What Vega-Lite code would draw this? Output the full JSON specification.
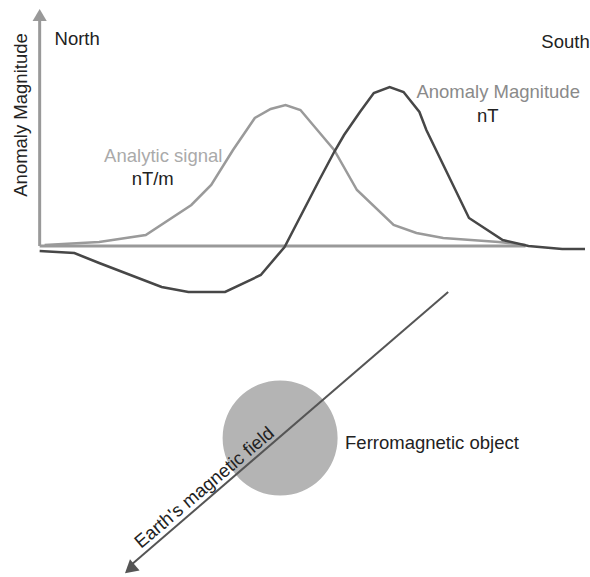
{
  "$schema": "https://vega.github.io/schema/vega-lite/v6.json",
  "width": 590,
  "height": 577,
  "padding": 0,
  "autosize": {"type": "fit", "contains": "padding"},
  "background": "white",
  "config": {"view": {"stroke": null}, "font": "Liberation Sans"},
  "datasets": {
    "axes": [
      {"part": "vertical", "order": 1, "x": 40, "y": 246},
      {"part": "vertical", "order": 2, "x": 40, "y": 20},
      {"part": "horizontal", "order": 1, "x": 40, "y": 246},
      {"part": "horizontal", "order": 2, "x": 530, "y": 246}
    ],
    "analytic": [
      {"x": 45, "y": 245}, {"x": 100, "y": 242}, {"x": 147, "y": 235}, {"x": 193, "y": 205},
      {"x": 213, "y": 185}, {"x": 235, "y": 150}, {"x": 257, "y": 118}, {"x": 273, "y": 109},
      {"x": 288, "y": 105}, {"x": 303, "y": 110}, {"x": 320, "y": 130}, {"x": 337, "y": 150},
      {"x": 360, "y": 190}, {"x": 397, "y": 225}, {"x": 420, "y": 233}, {"x": 447, "y": 238},
      {"x": 503, "y": 242}, {"x": 530, "y": 245}
    ],
    "anomaly": [
      {"x": 40, "y": 251}, {"x": 75, "y": 253}, {"x": 100, "y": 263}, {"x": 163, "y": 287},
      {"x": 190, "y": 292}, {"x": 227, "y": 292}, {"x": 263, "y": 275}, {"x": 287, "y": 247},
      {"x": 322, "y": 180}, {"x": 337, "y": 152}, {"x": 347, "y": 135}, {"x": 363, "y": 112},
      {"x": 377, "y": 93}, {"x": 393, "y": 87}, {"x": 407, "y": 92}, {"x": 423, "y": 112},
      {"x": 430, "y": 130}, {"x": 473, "y": 218}, {"x": 507, "y": 240}, {"x": 533, "y": 246},
      {"x": 567, "y": 249}, {"x": 590, "y": 249}
    ],
    "field": [
      {"x": 452, "y": 292}, {"x": 131, "y": 566}
    ]
  },
  "encoding": {
    "x": {"field": "x", "type": "quantitative", "scale": {"domain": [0, 590]}, "axis": null},
    "y": {"field": "y", "type": "quantitative", "scale": {"domain": [0, 577], "reverse": true}, "axis": null}
  },
  "layer": [
    {
      "data": {"values": [{"x": 282.5, "y": 438}]},
      "mark": {"type": "point", "shape": "circle", "filled": true, "color": "#b4b4b4", "opacity": 1, "size": 13225}
    },
    {
      "data": {"name": "axes"},
      "mark": {"type": "line", "color": "#999999", "strokeWidth": 3, "strokeCap": "butt"},
      "encoding": {"detail": {"field": "part"}, "order": {"field": "order"}}
    },
    {
      "data": {"values": [{"x": 40, "y": 15}]},
      "mark": {"type": "point", "shape": "triangle-up", "filled": true, "color": "#999999", "opacity": 1, "size": 200}
    },
    {
      "data": {"name": "analytic"},
      "mark": {"type": "line", "color": "#9a9a9a", "strokeWidth": 2.5}
    },
    {
      "data": {"name": "anomaly"},
      "mark": {"type": "line", "color": "#474747", "strokeWidth": 2.5}
    },
    {
      "data": {"name": "field"},
      "mark": {"type": "line", "color": "#555555", "strokeWidth": 2}
    },
    {
      "data": {"values": [{"x": 131, "y": 569}]},
      "mark": {"type": "point", "shape": "triangle-up", "filled": true, "color": "#555555", "opacity": 1, "size": 220, "angle": 229.6}
    },
    {
      "data": {"values": [
        {"label": "North", "x": 55, "y": 45},
        {"label": "South", "x": 546, "y": 48},
        {"label": "Ferromagnetic object", "x": 348, "y": 449}
      ]},
      "mark": {"type": "text", "align": "left", "baseline": "alphabetic", "fontSize": 18.5, "color": "#222222"},
      "encoding": {"text": {"field": "label"}}
    },
    {
      "data": {"values": [
        {"label": "nT", "x": 492, "y": 122},
        {"label": "nT/m", "x": 154, "y": 185}
      ]},
      "mark": {"type": "text", "align": "center", "baseline": "alphabetic", "fontSize": 18.5, "color": "#222222"},
      "encoding": {"text": {"field": "label"}}
    },
    {
      "data": {"values": [{"label": "Anomaly Magnitude", "x": 420, "y": 98}]},
      "mark": {"type": "text", "align": "left", "baseline": "alphabetic", "fontSize": 18.5, "color": "#8a8a8a"},
      "encoding": {"text": {"field": "label"}}
    },
    {
      "data": {"values": [{"label": "Analytic signal", "x": 105, "y": 162}]},
      "mark": {"type": "text", "align": "left", "baseline": "alphabetic", "fontSize": 18.5, "color": "#aaaaaa"},
      "encoding": {"text": {"field": "label"}}
    },
    {
      "data": {"values": [{"label": "Anomaly Magnitude", "x": 27, "y": 115}]},
      "mark": {"type": "text", "align": "center", "baseline": "alphabetic", "fontSize": 18.5, "angle": 270, "color": "#222222"},
      "encoding": {"text": {"field": "label"}}
    },
    {
      "data": {"values": [{"label": "Earth's magnetic field", "x": 210, "y": 492}]},
      "mark": {"type": "text", "align": "center", "baseline": "alphabetic", "fontSize": 18.5, "angle": 319.7, "color": "#222222"},
      "encoding": {"text": {"field": "label"}}
    }
  ]
}
